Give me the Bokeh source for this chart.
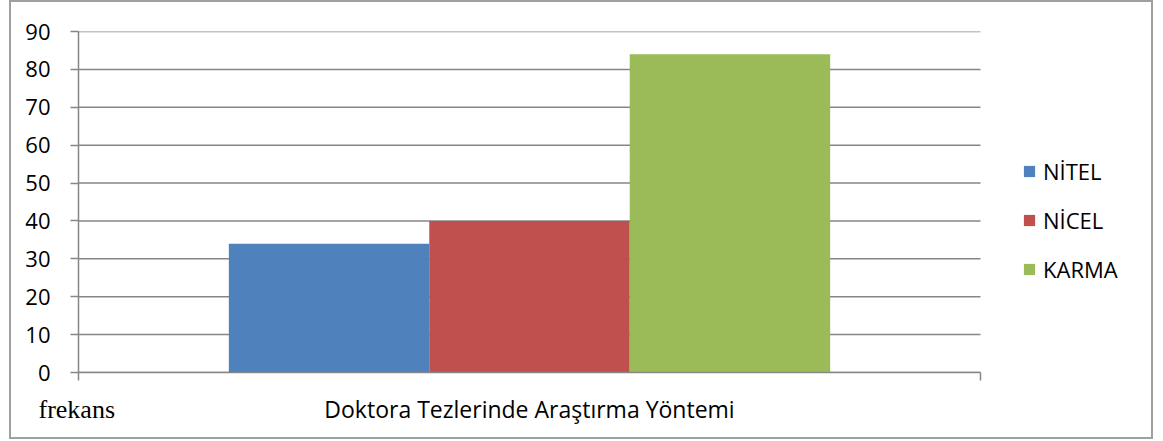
from bokeh.plotting import figure
from bokeh.models import Range1d, FixedTicker, Legend, LegendItem, Label, ColumnDataSource
from bokeh.embed import file_html
from bokeh.resources import INLINE

# ---- data ----
category = ["Doktora Tezlerinde Araştırma Yöntemi"]
series = ["NİTEL", "NİCEL", "KARMA"]
values = [34, 40, 84]
colors = ["#4F81BD", "#C0504D", "#9BBB59"]
y_ticks = [0, 10, 20, 30, 40, 50, 60, 70, 80, 90]
y_title = "frekans"

FONT = "Open Sans"
GRID = "#868686"
W, H = 1144, 439
LEFT, TOP, BOTTOM = 67, 28, 69
PLOT_W = 902                      # width of the category area (px)
FRAME_W = W - LEFT                # frame runs to the right edge so the legend is not clipped
x_end = FRAME_W / PLOT_W

p = figure(width=W, height=H, output_backend="svg", toolbar_location=None,
           x_range=Range1d(0, x_end), y_range=Range1d(0, 90),
           min_border_left=LEFT, min_border_right=0, min_border_top=TOP,
           min_border_bottom=BOTTOM)
p.styles = {"margin-left": "9px", "border": "2px solid #a0a0a0", "box-sizing": "border-box"}
p.outline_line_color = None
p.background_fill_color = "white"
p.border_fill_color = "white"

# horizontal grid lines only across the category area
p.xgrid.visible = False
p.ygrid.visible = False
p.segment(x0=[0] * len(y_ticks), x1=[1] * len(y_ticks), y0=y_ticks, y1=y_ticks,
          line_color=GRID, line_width=1.5)

# bars: one category, three series dodged inside 2/3 of the category width
n = len(series)
group_w = 2 / 3
bar_w = group_w / n
renderers = []
for i, (s, v, c) in enumerate(zip(series, values, colors)):
    xc = 0.5 - group_w / 2 + bar_w * (i + 0.5)
    src = ColumnDataSource(dict(x=[xc], top=[v], name=[s]))
    r = p.vbar(x="x", top="top", width=bar_w, source=src, fill_color=c, line_color=None)
    renderers.append(r)

# y axis
ya = p.yaxis[0]
ya.ticker = FixedTicker(ticks=y_ticks)
ya.axis_line_color = GRID
ya.axis_line_width = 1.5
ya.major_tick_line_color = GRID
ya.major_tick_line_width = 1.5
ya.major_tick_out = 8
ya.major_tick_in = 0
ya.minor_tick_line_color = None
ya.major_label_text_font = FONT
ya.major_label_text_font_size = "22px"
ya.major_label_text_color = "black"
ya.major_label_standoff = 20

# x axis: category name as the label at the centre, boundary ticks at both ends
xa = p.xaxis[0]
xa.bounds = (0, 1)
xa.ticker = FixedTicker(ticks=[0.5], minor_ticks=[0, 1])
xa.major_label_overrides = {0.5: category[0]}
xa.major_label_text_font = FONT
xa.major_label_text_font_size = "23px"
xa.major_label_text_color = "black"
xa.major_label_standoff = 12
xa.axis_line_color = GRID
xa.axis_line_width = 1.5
xa.major_tick_line_color = None
xa.major_tick_out = 0
xa.major_tick_in = 0
xa.minor_tick_line_color = GRID
xa.minor_tick_line_width = 1.5
xa.minor_tick_out = 8
xa.minor_tick_in = 0

# legend
legend = Legend(items=[LegendItem(label=s, renderers=[r]) for s, r in zip(series, renderers)],
                location=(944, 88), orientation="vertical",
                glyph_width=14, glyph_height=14, label_standoff=7, spacing=19,
                padding=0, margin=0, border_line_color=None, background_fill_alpha=0,
                label_text_font=FONT, label_text_font_size="22px", label_text_color="black",
                label_height=30)
p.add_layout(legend)

# y title placed at bottom-left like the original
p.add_layout(Label(x=25, y=405, x_units="canvas", y_units="canvas", text=y_title,
                   text_font="Liberation Serif", text_font_size="26px",
                   text_baseline="alphabetic", text_color="black"), "above")

open("out.html", "w").write(file_html(p, INLINE))
